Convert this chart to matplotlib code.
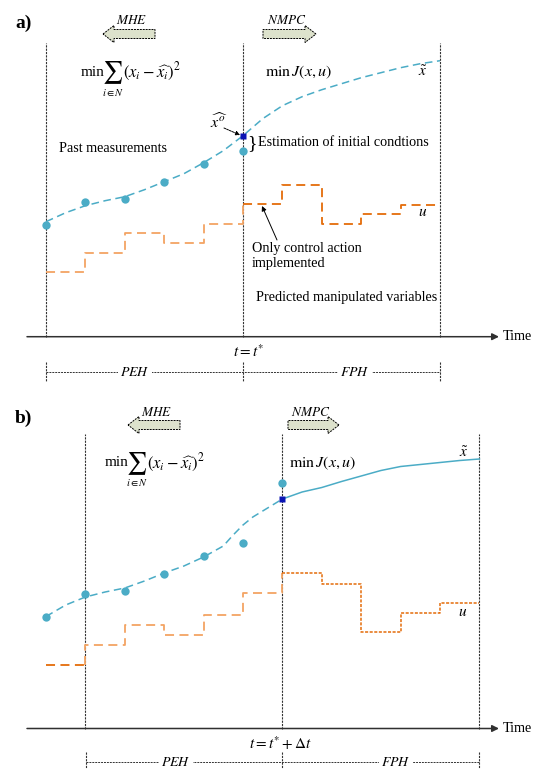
import numpy as np
import matplotlib
matplotlib.use('Agg')
import matplotlib.pyplot as plt
from matplotlib.patches import Polygon

plt.rcParams['font.family'] = ['Liberation Serif', 'DejaVu Serif']
plt.rcParams['mathtext.fontset'] = 'stix'

'''
  Data (time in sampling steps k, values in arbitrary units)
'''
# panel a : t = t*
meas_a = [11.2, 13.5, 13.8, 15.5, 17.3, 18.6]          # k = 0..5
est_a = 20.1                                             # estimate at k = 5
curve_k_a = [0, 0.5, 1, 1.5, 2, 2.5, 3, 3.5, 4, 4.5, 5, 5.5, 6, 6.5, 7,
             7.5, 8, 8.5, 9, 9.5, 10]
curve_v_a = [11.5, 12.4, 13.1, 13.6, 14.0, 14.7, 15.5, 16.3, 17.4, 18.6,
             20.1, 21.8, 23.1, 24.0, 24.7, 25.3, 25.9, 26.4, 26.9, 27.3, 27.6]
u_past_a = [6.5, 8.4, 10.4, 9.4, 11.3]                  # k = 0..4
u_plan_a = [13.3, 15.2, 11.3, 12.3, 13.2]               # k = 5..9

# panel b : t = t* + dt
meas_b = [11.2, 13.5, 13.8, 15.5, 17.3, 18.6, 24.6]    # k = 0..6
est_b = 23.0                                             # estimate at k = 6
curve_past_k_b = [0, 0.5, 1, 1.5, 2, 2.5, 3, 3.5, 4, 4.5, 4.75, 5, 5.25,
                  5.5, 6]
curve_past_v_b = [11.2, 12.35, 13.15, 13.65, 14.05, 14.75, 15.55, 16.25,
                  17.15, 18.25, 19.35, 20.35, 21.15, 21.75, 22.95]
curve_pred_k_b = [6, 6.5, 7, 7.5, 8, 8.5, 9, 9.5, 10, 10.5, 11]
curve_pred_v_b = [22.95, 23.65, 24.1, 24.7, 25.25, 25.8, 26.2, 26.4, 26.6,
                  26.8, 26.95]
u_old_b = [6.4]                                          # k = 0
u_past_b = [8.4, 10.4, 9.4, 11.4, 13.6]                 # k = 1..5
u_plan_b = [15.6, 14.5, 9.7, 11.6, 12.6]                # k = 6..10

# layout (pixels)
W, H = 535, 769
X0, DX, VS = 46, 39.4, 10.0
SPLIT = 385
AXIS_A, AXIS_B = 336.7, 728.5

c_blue = '#4bacc6'
c_sq = '#0a14b4'
c_or = '#e46c0a'
c_or_l = '#f3a463'
c_line = '#333333'


def steps(k0, levels, nxt=None):
	'''
	  step path: horizontal for each level, vertical to the next
	'''
	xs, ys = [], []
	for i, v in enumerate(levels):
		xs += [k0 + i, k0 + i + 1]
		ys += [v, v]
	if nxt is not None:
		xs.append(k0 + len(levels))
		ys.append(nxt)
	return xs, ys


def panel_axes(bot_px, top_px, axis_px):
	ax = fig.add_axes([0, 1 - bot_px / H, 1, (bot_px - top_px) / H])
	ax.set_xlim(-X0 / DX, (W - X0) / DX)
	ax.set_ylim((axis_px - bot_px) / VS, (axis_px - top_px) / VS)
	ax.axis('off')
	return ax


def block_arrow(ax, x_tip, x_end, y, left=True):
	hb, hh, hl = 4.5, 8.5, 11
	s = 1 if left else -1
	xb = x_tip + s * hl
	pts = [(x_tip, y), (xb, y - hh), (xb, y - hb), (x_end, y - hb),
	       (x_end, y + hb), (xb, y + hb), (xb, y + hh)]
	ax.add_patch(Polygon(pts, closed=True, facecolor='#dde2cc',
	                     edgecolor='black', lw=0.7, ls=(0, (2, 1))))


def mhe_formula(ax, x, y):
	'''
	  min sum_{i in N} (x_i - xhat_i)^2 built from pieces
	'''
	ax.text(x, y, 'min', fontsize=11, va='center', ha='left')
	ax.text(x + 32, y + 5, '\u2211', fontsize=16, family='STIXGeneral', va='baseline', ha='center')
	ax.text(x + 32, y + 20, r'$i\in N$', fontsize=7.5, va='center', ha='center')
	ax.text(x + 42, y, r'$(x_i-\widehat{x_i})^2$', fontsize=12, va='center', ha='left')


fig = plt.figure(figsize=(W / 100, H / 100), dpi=100)

ax_a = panel_axes(SPLIT, 0, AXIS_A)
ax_b = panel_axes(H, SPLIT, AXIS_B)
ov = fig.add_axes([0, 0, 1, 1])
ov.set_xlim(0, W)
ov.set_ylim(H, 0)
ov.axis('off')

dash = (0, (5, 3))
fine = (0, (2, 1))

# ---------------- panel a ----------------
ax_a.vlines([0, 5, 10], 0, (AXIS_A - 43) / VS, colors=c_line, lw=0.8, linestyles=fine)
ax_a.plot(curve_k_a, curve_v_a, color=c_blue, lw=1.1, ls=dash)
ax_a.plot(range(len(meas_a)), meas_a, 'o', color=c_blue, ms=6, mec='none')
ax_a.plot([5], [est_a], 's', color=c_sq, ms=4.5, mec='none')
x, y = steps(0, u_past_a, u_plan_a[0])
ax_a.plot(x, y, color=c_or_l, lw=1.3, ls=dash)
x, y = steps(5, u_plan_a)
ax_a.plot(x, y, color=c_or, lw=1.3, ls=dash)

# ---------------- panel b ----------------
ax_b.vlines([1, 6, 11], 0, (AXIS_B - 434) / VS, colors=c_line, lw=0.8, linestyles=fine)
ax_b.plot(curve_past_k_b, curve_past_v_b, color=c_blue, lw=1.1, ls=dash)
ax_b.plot(curve_pred_k_b, curve_pred_v_b, color=c_blue, lw=1.1)
ax_b.plot(range(len(meas_b)), meas_b, 'o', color=c_blue, ms=6, mec='none')
ax_b.plot([6], [est_b], 's', color=c_sq, ms=4.5, mec='none')
x, y = steps(0, u_old_b)
ax_b.plot(x, y, color=c_or, lw=1.3, ls=dash)
x, y = steps(1, u_past_b, u_plan_b[0])
x = [1] + x
y = [u_old_b[0]] + y
ax_b.plot(x, y, color=c_or_l, lw=1.3, ls=dash)
x, y = steps(6, u_plan_b)
ax_b.plot(x, y, color=c_or, lw=1.1, ls=fine)

# ---------------- annotations ----------------
tkw = dict(fontsize=10.2, color='black')
for (lab, ytop, yaxis, ybr, xs, tlab, tx, peh, fph, lines) in [
		('a)', 23, AXIS_A, 372, (103, 155, 263, 316), r'$t = t^{*}$', 249, 135, 355, (46, 243, 440)),
		('b)', 418, AXIS_B, 762, (128, 180, 288, 339), r'$t = t^{*} + \Delta t$', 281, 176, 396, (86, 282.4, 479))]:
	ov.text(15, ytop, lab, fontsize=14, fontweight='bold', va='center', ha='left')
	ya = ytop + 11 if lab == 'a)' else ytop + 7
	block_arrow(ov, xs[0], xs[1], ya, left=True)
	block_arrow(ov, xs[3], xs[2], ya, left=False)
	ov.text((xs[0] + xs[1]) / 2 + 3, ya - 13, r'$MHE$', fontsize=9.5, ha='center', va='center')
	ov.text((xs[2] + xs[3]) / 2 - 3, ya - 13, r'$NMPC$', fontsize=9.5, ha='center', va='center')
	ov.annotate('', xy=(499, yaxis), xytext=(27, yaxis),
	            arrowprops=dict(arrowstyle='-|>', color='#303030', lw=1.1, mutation_scale=10, shrinkA=0, shrinkB=0))
	ov.text(503, yaxis, 'Time', fontsize=10.2, va='center', ha='left')
	ov.text(tx, yaxis + 15, tlab, fontsize=11, ha='center', va='center')
	ov.hlines(ybr, lines[0], lines[2], colors=c_line, lw=0.7, linestyles=fine)
	ov.vlines(lines, ybr - 10, ybr + 9, colors=c_line, lw=0.8, linestyles=fine)
	for cx, t in [(peh, r'$PEH$'), (fph, r'$FPH$')]:
		ov.text(cx, ybr, t, fontsize=10, ha='center', va='center',
		        bbox=dict(facecolor='white', edgecolor='none', pad=1.5))

# formulas
mhe_formula(ov, 81, 72)
ov.text(265, 72, r'$\min\,J(x,u)$', fontsize=11.5, va='center')
ov.text(423, 72, r'$\tilde{x}$', fontsize=11, va='center', ha='center')
mhe_formula(ov, 105, 463)
ov.text(289, 463, r'$\min\,J(x,u)$', fontsize=11.5, va='center')
ov.text(464, 453, r'$\tilde{x}$', fontsize=11, va='center', ha='center')

# panel a labels
ov.text(59, 149, 'Past measurements', **tkw, va='center')
ov.text(219, 122, r'$\widehat{x^{o}}$', fontsize=11.5, ha='center', va='center')
ov.annotate('', xy=(240, 135), xytext=(224, 128),
            arrowprops=dict(arrowstyle='-|>', color='black', lw=0.7, ls=(0, (2, 1)), mutation_scale=6, shrinkA=0, shrinkB=0))
ov.text(247, 144, '}', fontsize=14, va='center')
ov.text(258, 143, 'Estimation of initial condtions', **tkw, va='center')
ov.text(252, 256, 'Only control action\nimplemented', **tkw, va='center', linespacing=1.15)
ov.annotate('', xy=(262, 206), xytext=(277, 240),
            arrowprops=dict(arrowstyle='-|>', color='black', lw=0.7, mutation_scale=7, shrinkA=0, shrinkB=0))
ov.text(423, 213, r'$u$', fontsize=11, va='center', ha='center')
ov.text(256, 297, 'Predicted manipulated variables', **tkw, va='center')

# panel b labels
ov.text(463, 612, r'$u$', fontsize=11, va='center', ha='center')

fig.savefig('out.png', dpi=100)
